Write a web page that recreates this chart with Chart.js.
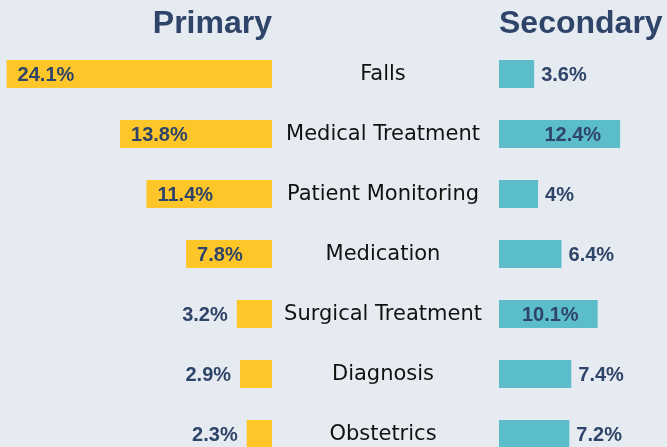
<!DOCTYPE html>
<html>
<head>
<meta charset="utf-8">
<script src="https://cdn.jsdelivr.net/npm/chart.js@4"></script>
<style>
  html, body { margin: 0; padding: 0; background: #e6ebf2; }
  #wrap { position: relative; width: 667px; height: 447px; overflow: hidden; background: #e6ebf2; }
  #left { position: absolute; left: 0; top: 0; }
  #right { position: absolute; left: 499px; top: 0; }
</style>
</head>
<body>
<div id="wrap">
  <div id="left" style="width:499px;height:465px"><canvas id="cl"></canvas></div>
  <div id="right" style="width:168px;height:465px"><canvas id="cr"></canvas></div>
</div>
<script>
const categories = ['Falls', 'Medical Treatment', 'Patient Monitoring', 'Medication', 'Surgical Treatment', 'Diagnosis', 'Obstetrics'];
const primaryValues = [24.1, 13.8, 11.4, 7.8, 3.2, 2.9, 2.3];
const secondaryValues = [3.6, 12.4, 4, 6.4, 10.1, 7.4, 7.2];
const seriesTitles = ['Primary', 'Secondary'];

const YELLOW = '#ffc629';
const TEAL = '#5bbcca';
const NAVY = '#2e4468';
const VALUE_FONT = 'bold 20px "Liberation Sans", Arial, sans-serif';
const TITLE_FONT = 'bold 32px "Liberation Sans", Arial, sans-serif';
const CAT_FONT = '21px "DejaVu Sans", sans-serif';

function valueLabelPlugin(side, insideMin) {
  return {
    id: 'valueLabels_' + side,
    afterDatasetsDraw(chart) {
      const ctx = chart.ctx;
      const meta = chart.getDatasetMeta(0);
      const data = chart.data.datasets[0].data;
      ctx.save();
      ctx.font = VALUE_FONT;
      ctx.fillStyle = NAVY;
      ctx.textBaseline = 'middle';
      meta.data.forEach((bar, i) => {
        const v = data[i];
        const txt = v + '%';
        const inside = v >= insideMin;
        let x;
        if (side === 'left') {
          if (inside) { ctx.textAlign = 'left'; x = bar.x + 11; }
          else { ctx.textAlign = 'right'; x = bar.x - 9; }
        } else {
          if (inside) { ctx.textAlign = 'right'; x = bar.x - 19; }
          else { ctx.textAlign = 'left'; x = bar.x + 7; }
        }
        ctx.fillText(txt, x, bar.y + 1);
      });
      ctx.restore();
    }
  };
}

const categoryLabelPlugin = {
  id: 'categoryLabels',
  afterDatasetsDraw(chart) {
    const ctx = chart.ctx;
    const yScale = chart.scales.y;
    const cx = chart.chartArea.right + 111;
    ctx.save();
    ctx.font = CAT_FONT;
    ctx.fillStyle = '#111111';
    ctx.textAlign = 'center';
    ctx.textBaseline = 'middle';
    chart.data.labels.forEach((lab, i) => {
      ctx.fillText(lab, cx, yScale.getPixelForValue(i) + 1);
    });
    ctx.restore();
  }
};

function titlePlugin(side, text) {
  return {
    id: 'sideTitle_' + side,
    afterDraw(chart) {
      const ctx = chart.ctx;
      ctx.save();
      ctx.font = TITLE_FONT;
      ctx.fillStyle = NAVY;
      ctx.textBaseline = 'alphabetic';
      if (side === 'left') { ctx.textAlign = 'right'; ctx.fillText(text, chart.chartArea.right, 33); }
      else { ctx.textAlign = 'left'; ctx.fillText(text, chart.chartArea.left, 33); }
      ctx.restore();
    }
  };
}

const commonPlugins = { legend: { display: false }, tooltip: { enabled: false }, title: { display: false } };

new Chart(document.getElementById('cl'), {
  type: 'bar',
  data: {
    labels: categories,
    datasets: [{ data: primaryValues, backgroundColor: YELLOW, barPercentage: 0.467, categoryPercentage: 1 }]
  },
  options: {
    indexAxis: 'y', responsive: true, maintainAspectRatio: false, animation: false,
    plugins: commonPlugins,
    layout: { padding: { top: 44, bottom: 1, left: 0, right: 227 } },
    scales: {
      x: { display: false, reverse: true, min: 0, max: 24.7 },
      y: { display: false }
    }
  },
  plugins: [valueLabelPlugin('left', 5), categoryLabelPlugin, titlePlugin('left', seriesTitles[0])]
});

new Chart(document.getElementById('cr'), {
  type: 'bar',
  data: {
    labels: categories,
    datasets: [{ data: secondaryValues, backgroundColor: TEAL, barPercentage: 0.467, categoryPercentage: 1 }]
  },
  options: {
    indexAxis: 'y', responsive: true, maintainAspectRatio: false, animation: false,
    plugins: commonPlugins,
    layout: { padding: { top: 44, bottom: 1, left: 0, right: 0 } },
    scales: {
      x: { display: false, min: 0, max: 17.2 },
      y: { display: false }
    }
  },
  plugins: [valueLabelPlugin('right', 9), titlePlugin('right', seriesTitles[1])]
});
</script>
</body>
</html>
